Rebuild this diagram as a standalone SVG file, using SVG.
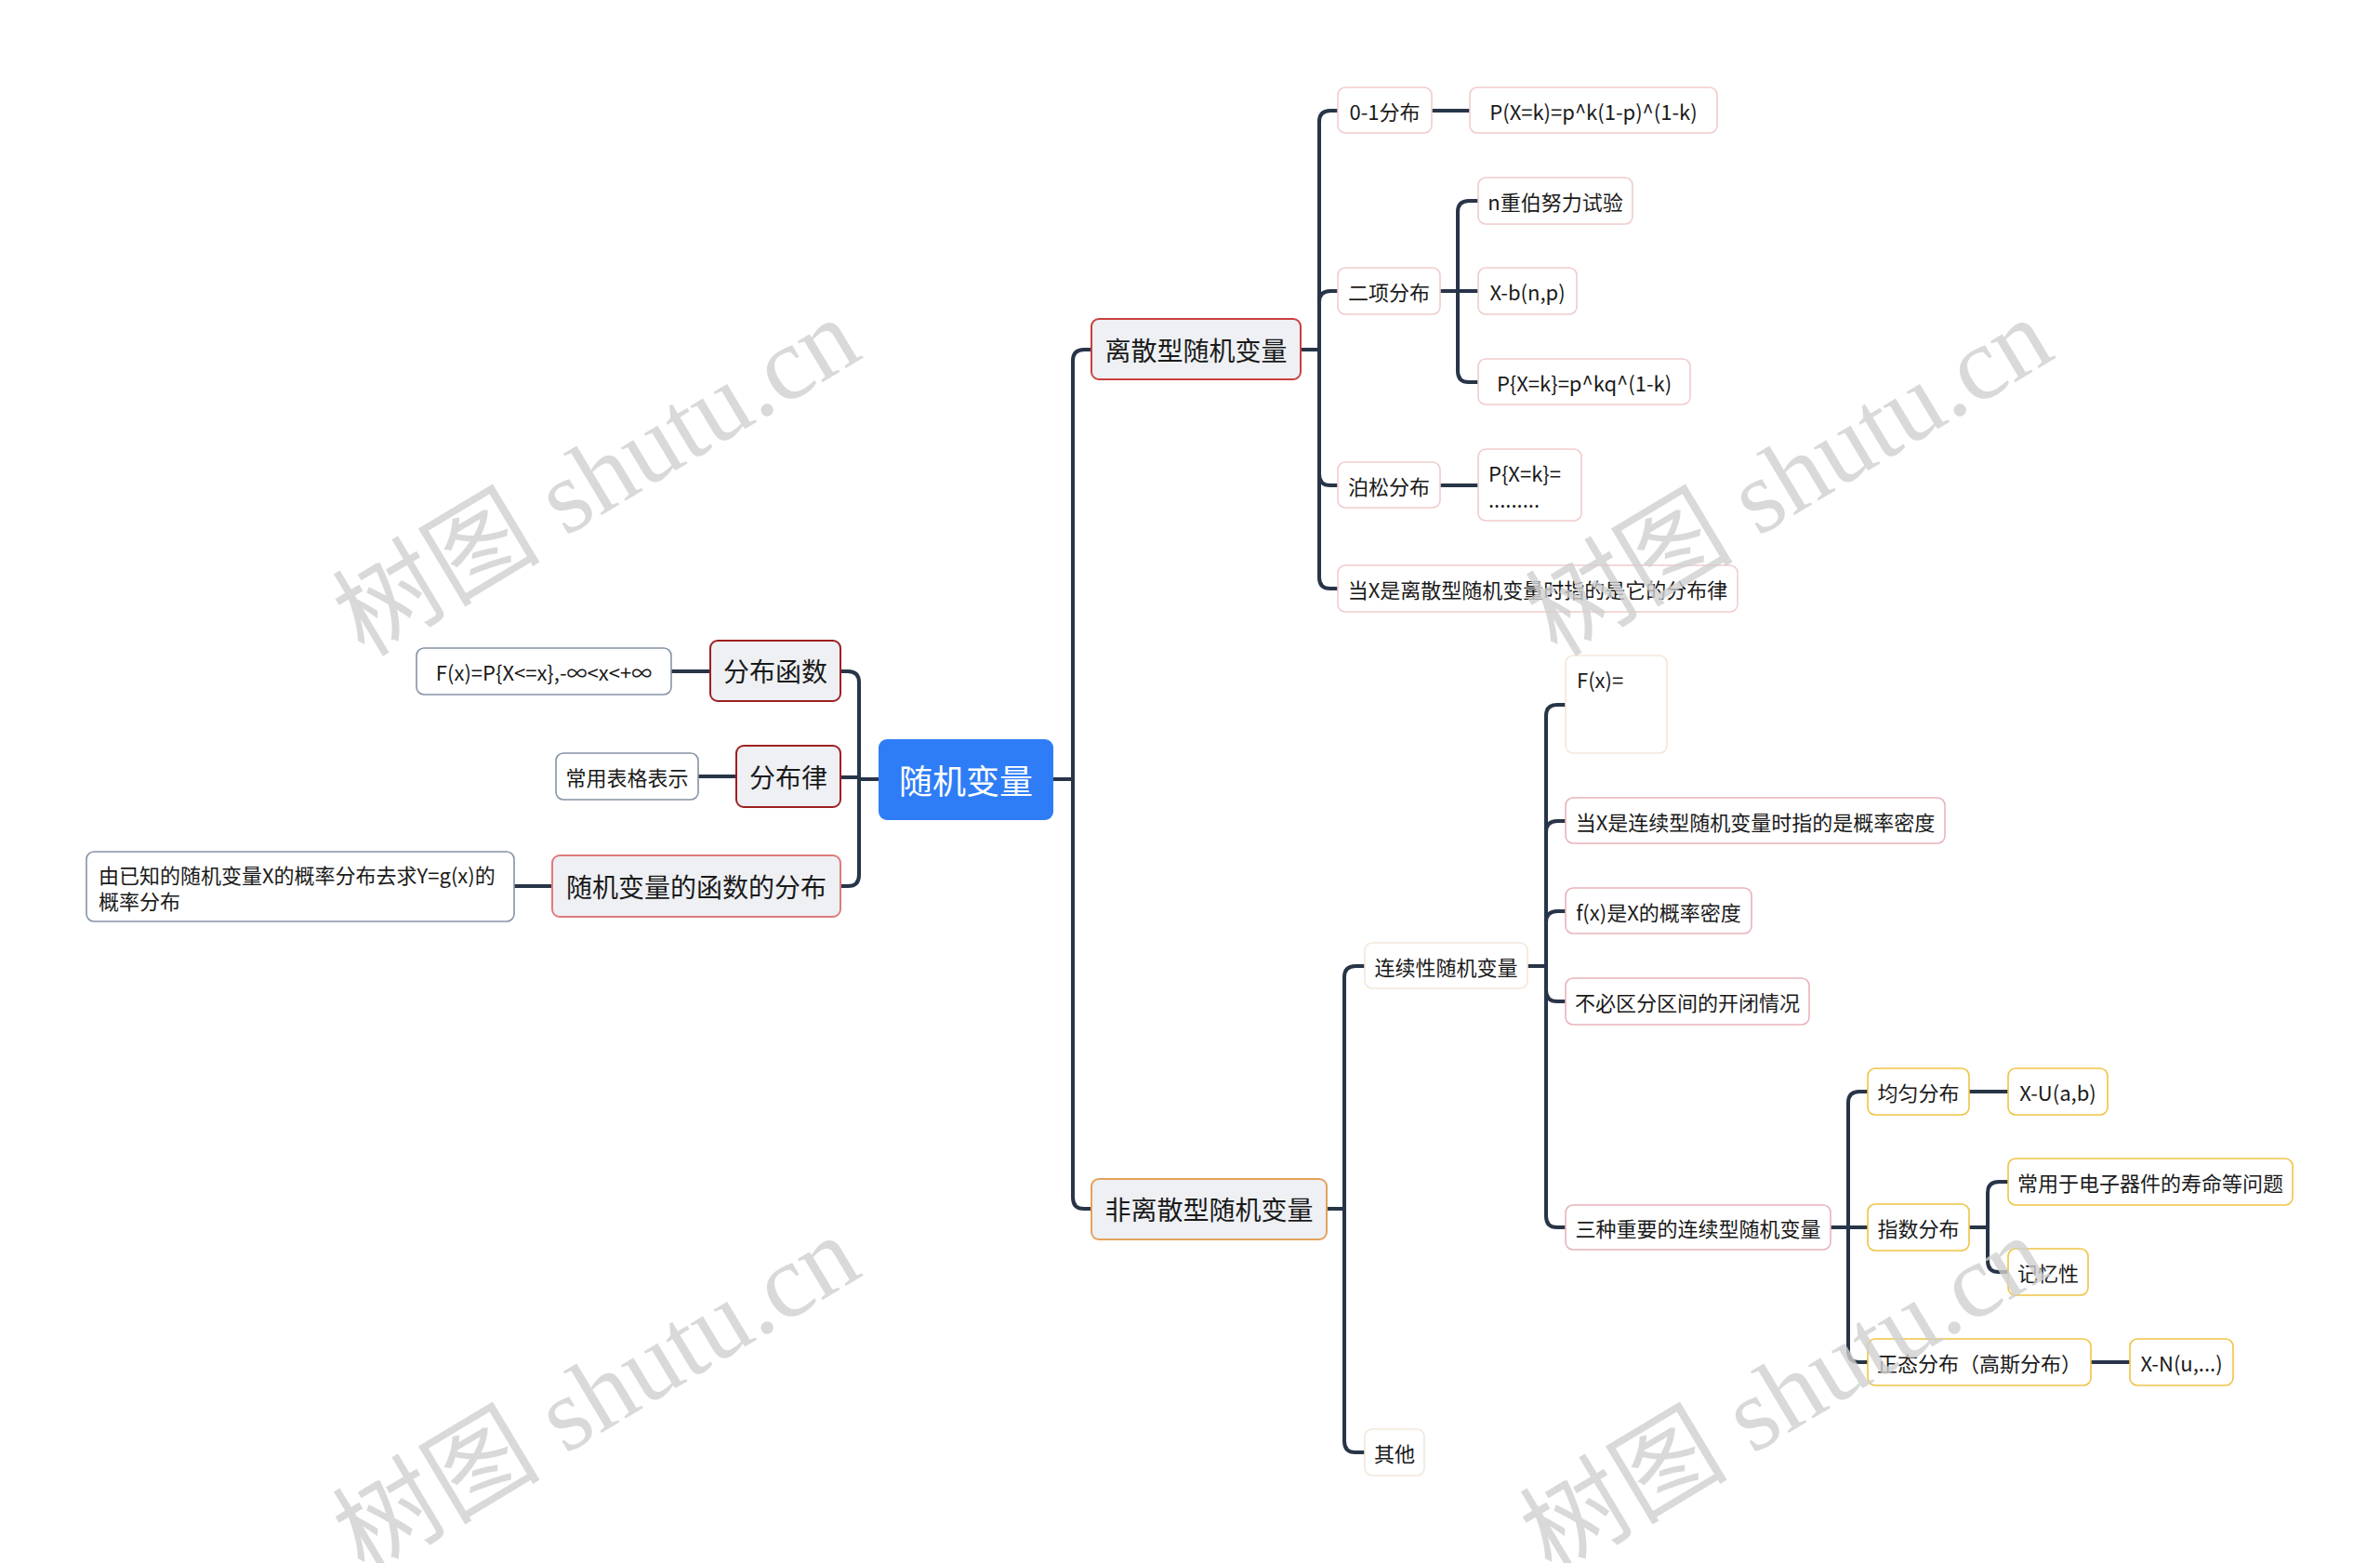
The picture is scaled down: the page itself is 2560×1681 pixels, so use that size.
<svg xmlns="http://www.w3.org/2000/svg" width="2560" height="1681" viewBox="0 0 2560 1681">
<style>
text{font-family:"Noto Sans CJK SC","Noto Sans",sans-serif;fill:#1a1a1a;dominant-baseline:central}
.c{text-anchor:middle}
.root rect{fill:#2f7df6}
.root text{fill:#fff;font-size:36px}
.l1 rect{fill:#eef0f4;stroke-width:2}
.l1 text{font-size:28px}
.l2 rect{fill:#fff;stroke-width:1.6}
.l2 text{font-size:22px}
.dred{stroke:#9e1f1f}
.red{stroke:#c9403e}
.lred{stroke:#e07a7a}
.org{stroke:#e3a25c}
.gray{stroke:#8793a5}
.pink{stroke:#f1cccc}
.pink2{stroke:#e9b3ba}
.beige{stroke:#f3e7da}
.yel{stroke:#f0c444}
#connectors path{fill:none;stroke:#283548;stroke-width:4;stroke-linejoin:round}
.wm{font-family:"Liberation Serif","Noto Sans CJK SC",serif;font-size:112px;fill:#cfcfcf;fill-opacity:0.8;text-anchor:middle;dominant-baseline:auto}
</style>
<rect width="2560" height="1681" fill="#fff"/>
<g id="connectors">
<path d="M1133,838 H1154"/>
<path d="M1154,838 V388 Q1154,376 1166,376 H1174"/>
<path d="M1154,838 V1288 Q1154,1300 1166,1300 H1174"/>
<path d="M945,838 H924"/>
<path d="M924,838 V734 Q924,722 912,722 H904"/>
<path d="M924,836 H904"/>
<path d="M924,838 V941 Q924,953 912,953 H904"/>
<path d="M764,722 H722"/>
<path d="M792,835 H751"/>
<path d="M594,953 H553"/>
<path d="M1399,376 H1419"/>
<path d="M1419,376 V131 Q1419,119 1431,119 H1439"/>
<path d="M1419,376 V325 Q1419,313 1431,313 H1439"/>
<path d="M1419,376 V510 Q1419,522 1431,522 H1439"/>
<path d="M1419,376 V621 Q1419,633 1431,633 H1439"/>
<path d="M1540,119 H1581"/>
<path d="M1549,313 H1590"/>
<path d="M1568,313 V228 Q1568,216 1580,216 H1590"/>
<path d="M1568,313 V399 Q1568,411 1580,411 H1590"/>
<path d="M1549,522 H1590"/>
<path d="M1427,1300 H1446"/>
<path d="M1446,1300 V1051 Q1446,1039 1458,1039 H1468"/>
<path d="M1446,1300 V1550 Q1446,1562 1458,1562 H1468"/>
<path d="M1643,1039 H1663"/>
<path d="M1663,1039 V770 Q1663,758 1675,758 H1684"/>
<path d="M1663,1039 V895 Q1663,883 1675,883 H1684"/>
<path d="M1663,1039 V992 Q1663,980 1675,980 H1684"/>
<path d="M1663,1039 V1065 Q1663,1077 1675,1077 H1684"/>
<path d="M1663,1039 V1308 Q1663,1320 1675,1320 H1684"/>
<path d="M1969,1320 H2009"/>
<path d="M1988,1320 V1186 Q1988,1174 2000,1174 H2009"/>
<path d="M1988,1320 V1453 Q1988,1465 2000,1465 H2009"/>
<path d="M2118,1174 H2160"/>
<path d="M2118,1320 H2138"/>
<path d="M2138,1320 V1283 Q2138,1271 2150,1271 H2160"/>
<path d="M2138,1320 V1356 Q2138,1368 2150,1368 H2160"/>
<path d="M2249,1465 H2291"/>
</g>
<g id="root" class="root"><rect x="945" y="795" width="188" height="87" rx="9"/><text class="c" x="1039" y="838">随机变量</text></g>
<g id="n-fbhs" class="l1"><rect class="dred" x="764" y="689" width="140" height="65" rx="8"/><text class="c" x="834" y="721">分布函数</text></g>
<g id="n-fx" class="l2"><rect class="gray" x="448" y="697" width="274" height="50" rx="8"/><text class="c" x="585" y="722">F(x)=P{X&lt;=x},-∞&lt;x&lt;+∞</text></g>
<g id="n-fbl" class="l1"><rect class="dred" x="792" y="802" width="112" height="66" rx="8"/><text class="c" x="848" y="835">分布律</text></g>
<g id="n-cybg" class="l2"><rect class="gray" x="598" y="810" width="153" height="50" rx="8"/><text class="c" x="674.5" y="835">常用表格表示</text></g>
<g id="n-hsfb" class="l1"><rect class="lred" x="594" y="920" width="310" height="66" rx="8"/><text class="c" x="749" y="953">随机变量的函数的分布</text></g>
<g id="n-yyz" class="l2"><rect class="gray" x="93" y="916" width="460" height="75" rx="8"/><text x="106" y="940">由已知的随机变量X的概率分布去求Y=g(x)的</text><text x="106" y="968">概率分布</text></g>
<g id="n-lsx" class="l1"><rect class="red" x="1174" y="343" width="225" height="65" rx="8"/><text class="c" x="1286.5" y="376">离散型随机变量</text></g>
<g id="n-flsx" class="l1"><rect class="org" x="1174" y="1268" width="253" height="65" rx="8"/><text class="c" x="1300.5" y="1300">非离散型随机变量</text></g>
<g id="n-01" class="l2"><rect class="pink" x="1439" y="94" width="101" height="49" rx="8"/><text class="c" x="1489.5" y="119">0-1分布</text></g>
<g id="n-01f" class="l2"><rect class="pink" x="1581" y="94" width="266" height="49" rx="8"/><text class="c" x="1714" y="119">P(X=k)=p^k(1-p)^(1-k)</text></g>
<g id="n-ex" class="l2"><rect class="pink" x="1439" y="288" width="110" height="50" rx="8"/><text class="c" x="1494" y="313">二项分布</text></g>
<g id="n-nbn" class="l2"><rect class="pink" x="1590" y="191" width="166" height="50" rx="8"/><text class="c" x="1673" y="216">n重伯努力试验</text></g>
<g id="n-xb" class="l2"><rect class="pink" x="1590" y="288" width="106" height="50" rx="8"/><text class="c" x="1643" y="313">X-b(n,p)</text></g>
<g id="n-pxk" class="l2"><rect class="pink" x="1590" y="386" width="228" height="49" rx="8"/><text class="c" x="1704" y="411">P{X=k}=p^kq^(1-k)</text></g>
<g id="n-bs" class="l2"><rect class="pink" x="1439" y="497" width="110" height="49" rx="8"/><text class="c" x="1494" y="522">泊松分布</text></g>
<g id="n-bsf" class="l2"><rect class="pink" x="1590" y="483" width="111" height="77" rx="8"/><text x="1601" y="508">P{X=k}=</text><text x="1601" y="536">.........</text></g>
<g id="n-lsd" class="l2"><rect class="pink" x="1439" y="608" width="430" height="50" rx="8"/><text class="c" x="1654" y="633">当X是离散型随机变量时指的是它的分布律</text></g>
<g id="n-lxx" class="l2"><rect class="beige" x="1468" y="1014" width="175" height="49" rx="8"/><text class="c" x="1555.5" y="1039">连续性随机变量</text></g>
<g id="n-qt" class="l2"><rect class="beige" x="1468" y="1537" width="64" height="50" rx="8"/><text class="c" x="1500" y="1562">其他</text></g>
<g id="n-Fx" class="l2"><rect class="beige" x="1684" y="705" width="109" height="105" rx="8"/><text x="1696" y="730">F(x)=</text></g>
<g id="n-lxd" class="l2"><rect class="pink2" x="1684" y="858" width="408" height="49" rx="8"/><text class="c" x="1888" y="883">当X是连续型随机变量时指的是概率密度</text></g>
<g id="n-fxd" class="l2"><rect class="pink2" x="1684" y="955" width="200" height="49" rx="8"/><text class="c" x="1784" y="980">f(x)是X的概率密度</text></g>
<g id="n-bbq" class="l2"><rect class="pink2" x="1684" y="1052" width="262" height="50" rx="8"/><text class="c" x="1815" y="1077">不必区分区间的开闭情况</text></g>
<g id="n-szzy" class="l2"><rect class="pink2" x="1684" y="1296" width="285" height="48" rx="8"/><text class="c" x="1826.5" y="1320">三种重要的连续型随机变量</text></g>
<g id="n-jy" class="l2"><rect class="yel" x="2009" y="1149" width="109" height="50" rx="8"/><text class="c" x="2063.5" y="1174">均匀分布</text></g>
<g id="n-xu" class="l2"><rect class="yel" x="2160" y="1149" width="107" height="50" rx="8"/><text class="c" x="2213.5" y="1174">X-U(a,b)</text></g>
<g id="n-zs" class="l2"><rect class="yel" x="2009" y="1295" width="109" height="50" rx="8"/><text class="c" x="2063.5" y="1320">指数分布</text></g>
<g id="n-cyy" class="l2"><rect class="yel" x="2160" y="1246" width="306" height="50" rx="8"/><text class="c" x="2313" y="1271">常用于电子器件的寿命等问题</text></g>
<g id="n-jyx" class="l2"><rect class="yel" x="2160" y="1343" width="86" height="50" rx="8"/><text class="c" x="2203" y="1368">记忆性</text></g>
<g id="n-zt" class="l2"><rect class="yel" x="2009" y="1440" width="240" height="50" rx="8"/><text class="c" x="2129" y="1465">正态分布（高斯分布）</text></g>
<g id="n-xn" class="l2"><rect class="yel" x="2291" y="1440" width="111" height="50" rx="8"/><text class="c" x="2346.5" y="1465">X-N(u,...)</text></g>
<g id="watermark">
<text class="wm" x="645" y="550" transform="rotate(-31 645 519)">树图 shutu.cn</text>
<text class="wm" x="1928" y="550" transform="rotate(-31 1928 519)">树图 shutu.cn</text>
<text class="wm" x="645" y="1537" transform="rotate(-31 645 1506)">树图 shutu.cn</text>
<text class="wm" x="1922" y="1537" transform="rotate(-31 1922 1506)">树图 shutu.cn</text>
</g>
</svg>
